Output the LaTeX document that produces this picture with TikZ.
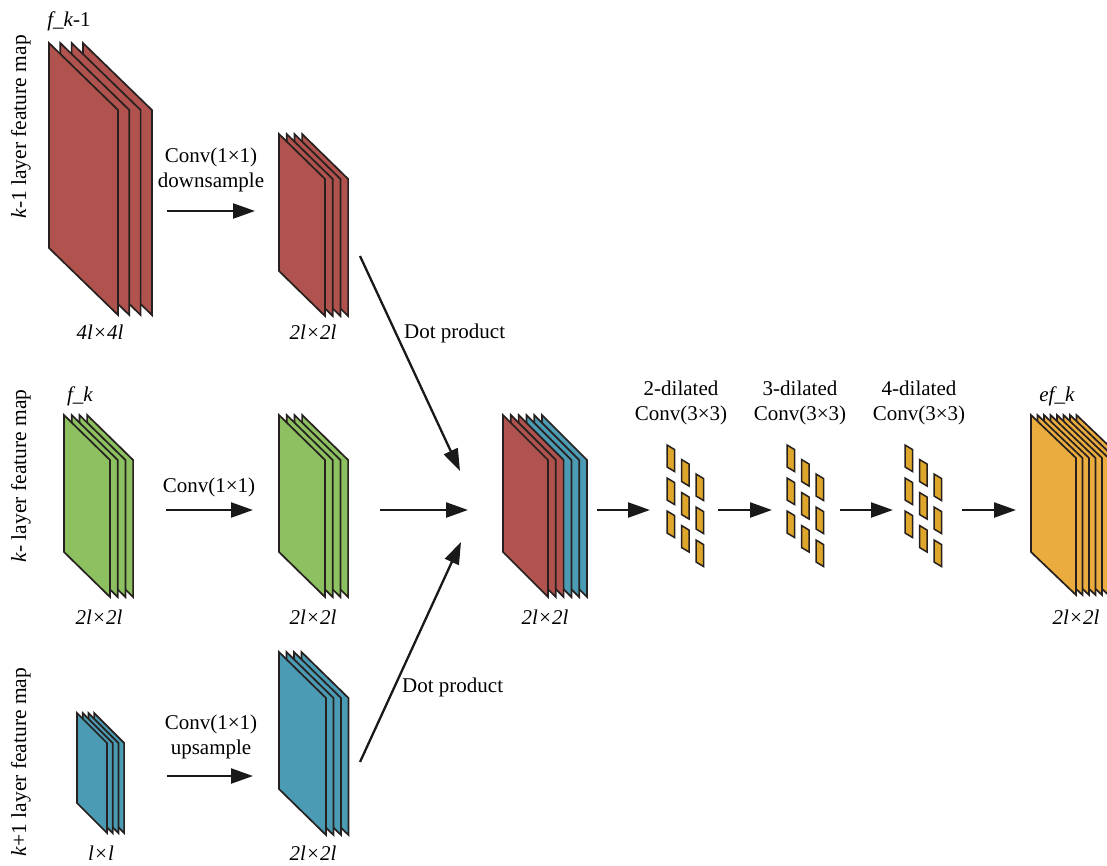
\documentclass[tikz,border=0pt]{standalone}
\usepackage{fontspec}
\setmainfont{Liberation Serif}
\usetikzlibrary{arrows.meta}
\definecolor{cred}{RGB}{176,82,78}
\definecolor{cgreen}{RGB}{140,192,96}
\definecolor{cblue}{RGB}{75,155,180}
\definecolor{cyel}{RGB}{234,172,62}
\definecolor{ckern}{RGB}{222,166,42}
\definecolor{cline}{RGB}{38,32,30}
\newcommand{\mysheet}[6]{%
  \filldraw[sheetline, fill=#6] (#1,#2) -- (#1,#2+#4) -- (#1+#3,#2+#4+#5) -- (#1+#3,#2+#5) -- cycle;}
\newcommand{\mystack}[8]{%
  \foreach \i in {#7,...,1}{%
    \pgfmathsetmacro\xx{#1+(\i-1)*#6}%
    \mysheet{\xx}{#2}{#3}{#4}{#5}{#8}}}
\newcommand{\kgroup}[1]{%
  \foreach \c in {0,1,2}{\foreach \r in {0,1,2}{%
    \filldraw[kernline] ({#1+\c*14.5},{445+\c*14.5+\r*33}) -- ++(0,22) -- ++(7.5,4.5) -- ++(0,-22) -- cycle;}}}
\tikzset{
  sheetline/.style={draw=cline, line width=1.7pt, line join=miter},
  kernline/.style={fill=ckern, draw=cline, line width=1.5pt},
  arr/.style={draw=black!90, line width=2.3pt, -{Triangle[length=22pt,width=15pt]}},
  lbl/.style={font=\fontsize{21}{25}\selectfont, inner sep=0pt, align=center},
  side/.style={font=\fontsize{21.5}{25}\selectfont, inner sep=0pt, rotate=90},
}
\begin{document}
\begin{tikzpicture}[x=1pt,y=-1pt]
\useasboundingbox (0,0) rectangle (1107,865);
\clip (0,0) rectangle (1107,865);
% stacks
\mystack{49}{43}{69}{205}{67}{11.3}{4}{cred}
\mystack{279}{134}{46}{137}{45}{7.7}{4}{cred}
\mystack{64}{415}{46}{137}{45}{7.7}{4}{cgreen}
\mystack{279}{415}{46}{137}{45}{7.7}{4}{cgreen}
\mystack{77}{713}{30}{90}{30}{5.7}{4}{cblue}
\mystack{279}{652}{47}{137}{46}{7.5}{4}{cblue}
% concatenated stack
\foreach \i in {5,4,3}{\pgfmathsetmacro\xx{503+\i*7.8}\mysheet{\xx}{415}{45}{137}{45}{cblue}}
\foreach \i in {2,1,0}{\pgfmathsetmacro\xx{503+\i*7.8}\mysheet{\xx}{415}{45}{137}{45}{cred}}
\mystack{1031}{415}{45}{137}{43}{6.5}{8}{cyel}
% kernels
\kgroup{667}
\kgroup{787}
\kgroup{905}
% coordinates for stacks
\coordinate (red1) at (100,180);
\coordinate (red2) at (313,226);
\coordinate (green1) at (99,505);
\coordinate (green2) at (313,505);
\coordinate (blue1) at (100,773);
\coordinate (blue2) at (313,743);
\coordinate (cat) at (545,505);
\coordinate (yel) at (1076,505);
% labels
\node[lbl] (tfk1) at (69,21) {\textit{f\_k}-1};
\node[side] (s1) at (21,127) {\textit{k}-1 layer feature map};
\node[lbl] (l1) at (100,332) {\textit{4l×4l}};
\node[lbl] (l2) at (313,332) {\textit{2l×2l}};
\node[lbl] (c1) at (211,170) {Conv(1×1)\\downsample};
\node[lbl] (tfk) at (80,396) {\textit{f\_k}};
\node[side] (s2) at (21,476) {\textit{k}- layer feature map};
\node[lbl] (l3) at (99,617) {\textit{2l×2l}};
\node[lbl] (l4) at (313,617) {\textit{2l×2l}};
\node[lbl] (c2) at (209,487) {Conv(1×1)};
\node[lbl] (l5) at (545,617) {\textit{2l×2l}};
\node[lbl] (d2) at (681,403) {2-dilated\\Conv(3×3)};
\node[lbl] (d3) at (800,403) {3-dilated\\Conv(3×3)};
\node[lbl] (d4) at (919,403) {4-dilated\\Conv(3×3)};
\node[lbl] (tef) at (1057,396) {\textit{ef\_k}};
\node[lbl] (l6) at (1076,617) {\textit{2l×2l}};
\node[lbl] (l7) at (101,853) {\textit{l×l}};
\node[lbl] (l8) at (313,853) {\textit{2l×2l}};
\node[lbl] (c3) at (211,737) {Conv(1×1)\\upsample};
\node[side] (s3) at (21,762) {\textit{k}+1 layer feature map};
\node[lbl, anchor=west] (dp1) at (404,333) {Dot product};
\node[lbl, anchor=west] (dp2) at (402,687) {Dot product};
% arrow endpoints
\coordinate (a1s) at (167,211); \coordinate (a1e) at (255,211);
\coordinate (a2s) at (166,510); \coordinate (a2e) at (253,510);
\coordinate (a3s) at (167,776); \coordinate (a3e) at (253,776);
\coordinate (a4s) at (380,510); \coordinate (a4e) at (468,510);
\coordinate (a5s) at (360,256); \coordinate (a5e) at (460,471);
\coordinate (a6s) at (360,762); \coordinate (a6e) at (461,542);
\coordinate (a7s) at (597,510); \coordinate (a7e) at (650,510);
\coordinate (a8s) at (718,510); \coordinate (a8e) at (772,510);
\coordinate (a9s) at (840,510); \coordinate (a9e) at (893,510);
\coordinate (a10s) at (962,510); \coordinate (a10e) at (1016,510);
\draw[arr] (a1s) -- (a1e);
\draw[arr] (a2s) -- (a2e);
\draw[arr] (a3s) -- (a3e);
\draw[arr] (a4s) -- (a4e);
\draw[arr] (a5s) -- (a5e);
\draw[arr] (a6s) -- (a6e);
\draw[arr] (a7s) -- (a7e);
\draw[arr] (a8s) -- (a8e);
\draw[arr] (a9s) -- (a9e);
\draw[arr] (a10s) -- (a10e);
\end{tikzpicture}
\end{document}
